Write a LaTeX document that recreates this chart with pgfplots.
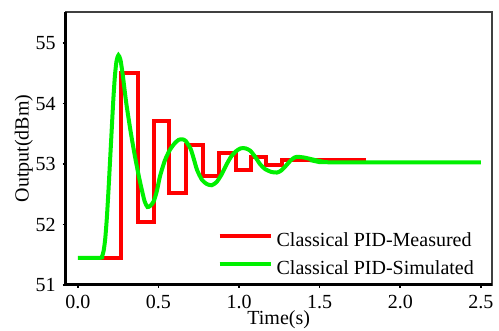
\documentclass[border=0pt]{standalone}
\usepackage{fontspec}
\setmainfont{Liberation Serif}
\usepackage{pgfplots}
\pgfplotsset{compat=1.18}
\usetikzlibrary{calc}
\definecolor{pidred}{RGB}{255,0,0}
\definecolor{pidgreen}{RGB}{0,240,0}
\begin{document}
\begin{tikzpicture}
\path[use as bounding box] (0,0) rectangle (249.5pt,165.5pt);
\begin{axis}[
  at={(32.85pt,23pt)}, anchor=south west,
  scale only axis, width=213pt, height=136.65pt,
  xmin=-0.075, xmax=2.567, ymin=51, ymax=55.52,
  xtick={0,0.5,1,1.5,2,2.5}, ytick={51,52,53,54,55},
  tick pos=left, tick align=outside, major tick length=1.5pt,
  tick style={black, line width=0.8pt},
  axis line style={draw=black!75, line width=1pt},
  font=\fontsize{10pt}{12pt}\selectfont,
  /pgf/number format/assume math mode=true,
  xticklabel style={/pgf/number format/fixed, /pgf/number format/fixed zerofill, /pgf/number format/precision=1},
  xlabel={Time(s)}, ylabel={Output(dBm)},
  xlabel style={at={(rel axis cs:0.5,0)}, anchor=north, yshift=-12.5pt, inner sep=0pt},
  ylabel style={at={($(rel axis cs:0,0.5)+(-21pt,0pt)$)}, anchor=center, inner sep=0pt},
  legend style={draw=none, fill=none, inner sep=0pt, outer sep=0pt,
    at={(rel axis cs:0.366,0.201)}, anchor=north west, xshift=-2pt, yshift=-1pt,
    nodes={inner sep=0pt, text height=7pt, text depth=2pt, font=\fontsize{10pt}{12pt}\selectfont},
    row sep=5pt, /tikz/every odd column/.append style={column sep=2pt}},
  legend cell align=left,
  legend image code/.code={\draw[#1] (0pt,2.5pt) -- (25.5pt,2.5pt);},
  after end axis/.code={\draw[black, line width=1.5pt] (rel axis cs:0,1) -- (rel axis cs:0,0) -- (rel axis cs:1,0);},
]
\addplot[pidred, line width=2pt] coordinates {
(0,51.45) (0.268,51.45) (0.268,54.5) (0.372,54.5) (0.372,52.05) (0.475,52.05)
(0.475,53.71) (0.568,53.71) (0.568,52.52) (0.671,52.52) (0.671,53.32) (0.775,53.32)
(0.775,52.81) (0.878,52.81) (0.878,53.19) (0.981,53.19) (0.981,52.91) (1.074,52.91)
(1.074,53.12) (1.17,53.12) (1.17,52.98) (1.265,52.98) (1.265,53.07) (1.79,53.07)
};
\addlegendentry{Classical PID-Measured}
\addplot[pidgreen, line width=2pt, smooth, tension=0.4] coordinates {
(0,51.45) (0.14,51.45) (0.15,51.47) (0.16,51.56) (0.17,51.76) (0.18,52.1) (0.19,52.55)
(0.20,53.05) (0.21,53.55) (0.22,54.05) (0.23,54.45) (0.24,54.7) (0.252,54.8) (0.265,54.72)
(0.28,54.45) (0.30,54.02) (0.33,53.5) (0.355,53.12) (0.38,52.78) (0.40,52.54) (0.415,52.38)
(0.432,52.29) (0.45,52.31) (0.47,52.38) (0.49,52.55) (0.51,52.8) (0.54,53.06) (0.57,53.23)
(0.60,53.34) (0.625,53.4) (0.649,53.41) (0.67,53.38) (0.70,53.25) (0.72,53.08) (0.74,52.9)
(0.77,52.74) (0.80,52.67) (0.83,52.65) (0.86,52.7) (0.89,52.82) (0.92,52.98) (0.95,53.12)
(0.98,53.21) (1.01,53.26) (1.04,53.26) (1.07,53.22) (1.10,53.12) (1.13,53.0) (1.16,52.92)
(1.20,52.87) (1.235,52.86) (1.26,52.89) (1.29,52.97) (1.32,53.06) (1.345,53.11) (1.36,53.12)
(1.40,53.11) (1.45,53.08) (1.50,53.05) (1.55,53.03) (2.5,53.03)
};
\addlegendentry{Classical PID-Simulated}
\end{axis}
\end{tikzpicture}
\end{document}
